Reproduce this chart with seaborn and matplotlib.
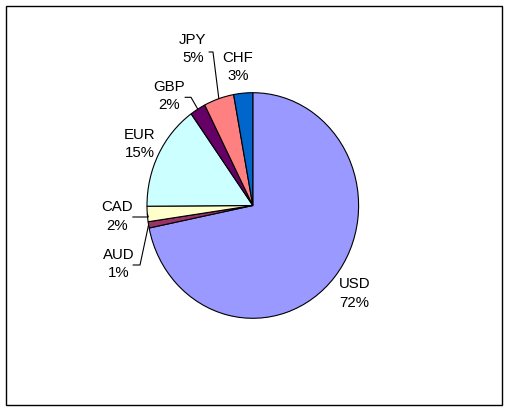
import numpy as np
import matplotlib
matplotlib.use("Agg")
import matplotlib.pyplot as plt
import seaborn as sns
from matplotlib.patches import Rectangle

# ---- data ----
currencies = ["USD", "AUD", "CAD", "EUR", "GBP", "JPY", "CHF"]
shares = [71.8, 0.9, 2.2, 15.2, 2.4, 4.6, 2.9]
colors = ["#9999FF", "#993366", "#FFFFCC", "#CCFFFF", "#660066", "#FF8080", "#0066CC"]

sns.set_theme(style="white")
plt.rcParams["font.family"] = ["Liberation Sans", "DejaVu Sans"]

W, H = 508, 412
fig = plt.figure(figsize=(W / 100, H / 100), dpi=100)
fig.patch.set_facecolor("white")

# pie geometry in pixels (slightly elliptical, like the original)
cx, cy, rx, ry = 252.8, 205.5, 105.8, 112.8

ax = fig.add_axes([0, 0, 1, 1])
wedges, _ = ax.pie(shares, colors=colors, startangle=90, counterclock=False,
                   wedgeprops=dict(edgecolor="black", linewidth=0.8))
ax.set_aspect("auto")
ax.set_xlim(-cx / rx, (W - cx) / rx)
ax.set_ylim((cy - H) / ry, cy / ry)
ax.axis("off")

def px(x, y):
    return ((x - cx) / rx, (cy - y) / ry)

total = sum(shares)
pct = [round(s / total * 100) for s in shares]

# label block centres (pixel layout)
label_pos = {
    "USD": (354.5, 293.5), "AUD": (118.5, 264), "CAD": (117, 216.5),
    "EUR": (140, 144), "GBP": (169.5, 96), "JPY": (193, 49), "CHF": (238, 67),
}
for name, p in zip(currencies, pct):
    x, y = px(*label_pos[name])
    ax.text(x, y, f"{name}\n{p}%", ha="center", va="center", fontsize=10.8,
            linespacing=1.4, color="black")

# leader lines: from wedge edge to elbow to label
elbows = {
    "JPY": [(213, 52), (209, 52)],
    "GBP": [(191, 97.3), (185, 97.3)],
    "CAD": [(148.3, 217), (132.7, 217)],
    "AUD": [(140, 265), (133, 265)],
}
cum = 0.0
for name, s in zip(currencies, shares):
    mid = cum + s / 2
    cum += s
    if name not in elbows:
        continue
    ang = np.deg2rad(90 - mid / total * 360)
    xs = [np.cos(ang)]
    ys = [np.sin(ang)]
    for (ex, ey) in elbows[name]:
        dx, dy = px(ex, ey)
        xs.append(dx)
        ys.append(dy)
    ax.plot(xs, ys, color="black", linewidth=0.8)

# outer chart-area border
fig.patches.append(Rectangle((5.5 / W, 1 - 405 / H), (501.5 - 5.5) / W, (405 - 6) / H,
                             transform=fig.transFigure, fill=False,
                             edgecolor="black", linewidth=1.0))

fig.savefig("out.png", dpi=100)
